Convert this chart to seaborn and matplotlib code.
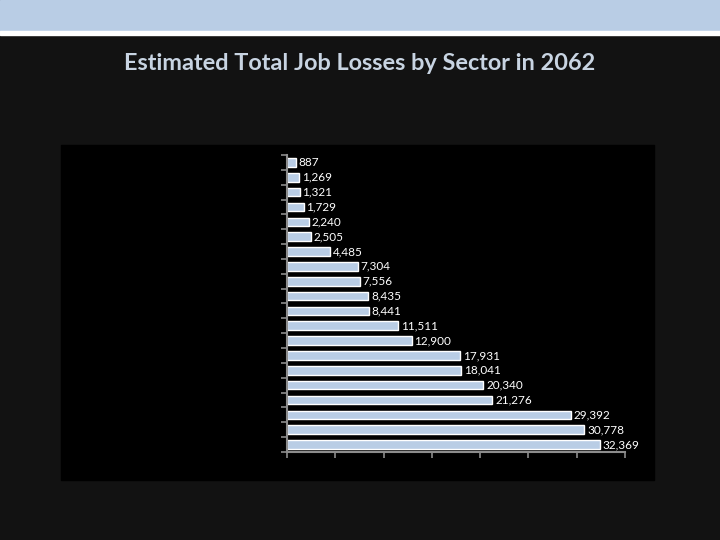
import matplotlib.pyplot as plt
import matplotlib.patches as mpatches
import numpy as np
import pandas as pd
import seaborn as sns

# sector names are not shown on the slide (black on black), keep short ids
sectors = ["S01", "S02", "S03", "S04", "S05", "S06", "S07", "S08", "S09", "S10",
           "S11", "S12", "S13", "S14", "S15", "S16", "S17", "S18", "S19", "S20"]
losses = [887, 1269, 1321, 1729, 2240, 2505, 4485, 7304, 7556, 8435,
          8441, 11511, 12900, 17931, 18041, 20340, 21276, 29392, 30778, 32369]
title = "Estimated Total Job Losses by Sector in 2062"

df = pd.DataFrame({"sector": sectors, "losses": losses})

sns.set_style("dark")
plt.rcParams['font.family'] = ['Lato', 'DejaVu Sans']

fig = plt.figure(figsize=(7.2, 5.4), dpi=100, facecolor='#121212')

# slide header band + white rule
fig.patches.append(mpatches.Rectangle((0, 1 - 31/540), 1, 31/540, transform=fig.transFigure,
                                      color='#b9cde5', zorder=-2))
fig.patches.append(mpatches.Rectangle((0, 1 - 35/540), 1, 4/540, transform=fig.transFigure,
                                      color='white', zorder=-2))
# black chart area
fig.patches.append(mpatches.Rectangle((61/720, 1 - 480/540), 593/720, 335/540,
                                      transform=fig.transFigure, color='black', zorder=-2))

fig.text(0.5, 1 - 64/540, title, ha='center', va='center', color='#c8d4e2',
         fontsize=16.9, fontweight='bold')

ax = fig.add_axes([287/720, 1 - 452/540, 338/720, 297/540])
ax.set_facecolor('black')
sns.barplot(data=df, x="losses", y="sector", orient="h", color='#b9cde5',
            edgecolor='white', linewidth=1, width=0.58, saturation=1, ax=ax)
ax.bar_label(ax.containers[0], labels=[f"{v:,}" for v in losses], padding=2,
             color='white', fontsize=8.5)

ax.set_xlim(0, 35000)
ax.set_ylim(len(sectors) - 0.5, -0.5)
ax.set_xticks(np.arange(0, 35001, 5000))
ax.set_xticklabels([])
ax.set_yticks(np.arange(-0.5, len(sectors), 1.0))
ax.set_yticklabels([])
ax.set_xlabel("")
ax.set_ylabel("")
ax.grid(False)
ax.tick_params(axis='both', color='#8c8c8c', length=4, width=1.2, direction='out',
               bottom=True, left=True)
for side in ['top', 'right']:
    ax.spines[side].set_visible(False)
for side in ['left', 'bottom']:
    ax.spines[side].set_color('#8c8c8c')
    ax.spines[side].set_linewidth(1.5)

fig.savefig("out.png", dpi=100, facecolor=fig.get_facecolor())
